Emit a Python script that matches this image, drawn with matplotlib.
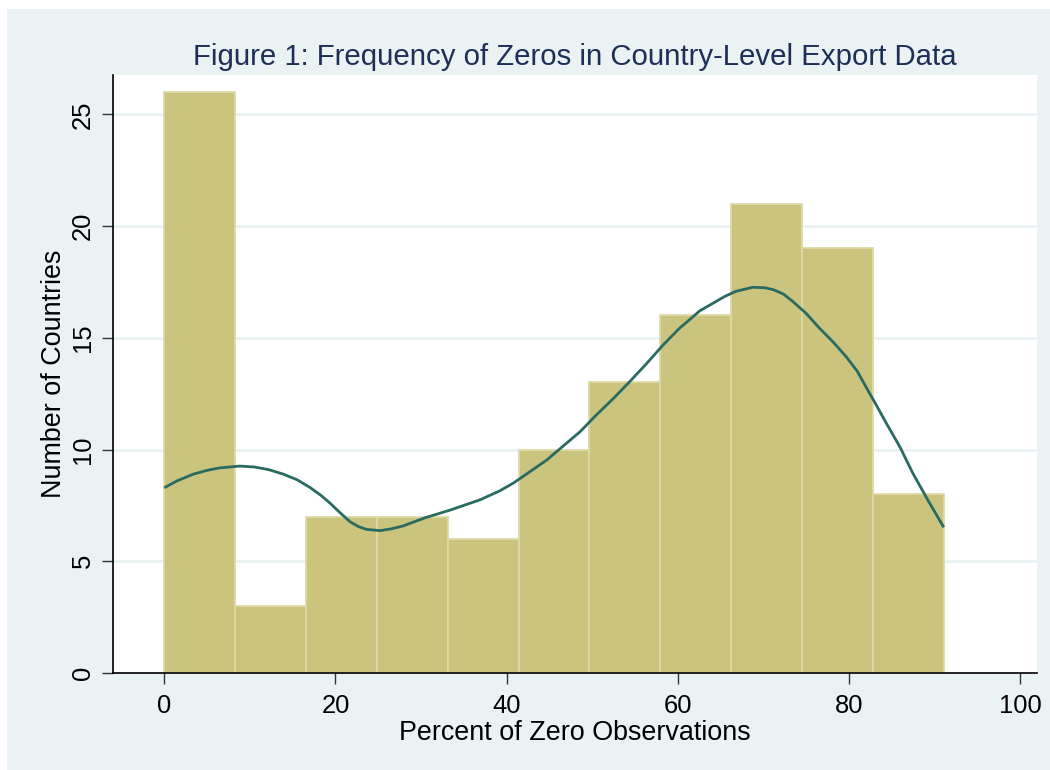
import matplotlib
matplotlib.use("Agg")
import matplotlib.pyplot as plt
from matplotlib.patches import Rectangle

# histogram: number of countries per bin of "percent of zero observations"
bin_start = 0.0
bin_width = 8.28
counts = [26, 3, 7, 7, 6, 10, 13, 16, 21, 19, 8]

# kernel density overlay (scaled to counts)
kde_x = [0, 1.5, 3.4, 5.0, 6.5, 8.8, 10.5, 12.2, 13.9, 15.5, 17.0, 18.3,
         19.4, 20.6, 21.7, 22.7, 23.6, 25.2, 26.5, 27.9, 30.5, 33.4, 35.0,
         36.9, 39.2, 40.8, 42.7, 44.7, 46.6, 48.6, 50.5, 52.5, 54.5, 56.4,
         58.3, 60.2, 62.6, 64.1, 65.5, 66.8, 68.8, 70.2, 71.2, 72.4, 73.5,
         75.0, 76.6, 78.2, 79.7, 81.0, 82.1, 83.2, 84.4, 86.0, 87.5, 89.3, 91.1]
kde_y = [8.29, 8.6, 8.9, 9.07, 9.18, 9.26, 9.22, 9.1, 8.9, 8.65, 8.31, 7.95,
         7.59, 7.15, 6.77, 6.55, 6.43, 6.37, 6.45, 6.58, 6.95, 7.29, 7.5,
         7.75, 8.15, 8.5, 9.0, 9.53, 10.15, 10.8, 11.55, 12.29, 13.08, 13.86,
         14.68, 15.42, 16.21, 16.54, 16.85, 17.08, 17.26, 17.24, 17.15, 16.95, 16.61,
         16.1, 15.42, 14.8, 14.15, 13.5, 12.74, 12.0, 11.17, 10.1, 8.93, 7.7, 6.52]

x_ticks = [0, 20, 40, 60, 80, 100]
y_ticks = [0, 5, 10, 15, 20, 25]

title = "Figure 1: Frequency of Zeros in Country-Level Export Data"
x_label = "Percent of Zero Observations"
y_label = "Number of Countries"

bg = "#EAF2F3"
bar_fill = "#CBC47E"
bar_edge = "#DEDAA6"
line_col = "#2A6B61"
title_col = "#1E2F57"

plt.rcParams["font.family"] = ["Liberation Sans", "DejaVu Sans"]

W, H = 1050, 770
fig = plt.figure(figsize=(W / 100, H / 100), dpi=100)
fig.patch.set_facecolor("white")
fig.patches.append(Rectangle((7 / W, 0), 1 - 7 / W, 1 - 9 / H,
                             transform=fig.transFigure, facecolor=bg,
                             edgecolor="none", zorder=-10))

ax = fig.add_axes([113 / W, 1 - 673 / H, (1037 - 113) / W, (673 - 75) / H])
ax.set_facecolor("white")

lefts = [bin_start + i * bin_width for i in range(len(counts))]
ax.bar(lefts, counts, width=bin_width, align="edge", color=bar_fill,
       edgecolor=bar_edge, linewidth=1.3, zorder=2)
ax.plot(kde_x, kde_y, color=line_col, linewidth=2.0, zorder=3,
        solid_capstyle="butt", solid_joinstyle="round")

ax.set_xlim(-6.0, 102.0)
ax.set_ylim(0, 26.76)
ax.set_xticks(x_ticks)
ax.set_yticks(y_ticks)
for yv in y_ticks[1:]:
    ax.axhline(yv, color=bg, linewidth=2.0, zorder=1)

for side in ["top", "right"]:
    ax.spines[side].set_visible(False)
for side in ["left", "bottom"]:
    ax.spines[side].set_linewidth(1.2)
    ax.spines[side].set_color("black")
    ax.spines[side].set_zorder(4)

ax.tick_params(axis="both", direction="out", length=8, width=1.0,
               color="#333333", labelsize=18.4, labelcolor="black")
ax.tick_params(axis="x", pad=7)
ax.tick_params(axis="y", pad=5)
for lab in ax.get_yticklabels():
    lab.set_rotation(90)
    lab.set_va("center")

fig.text(575 / W, 1 - 65 / H, title, ha="center", va="baseline",
         fontsize=21.2, color=title_col)
fig.text(575 / W, 1 - 740 / H, x_label, ha="center", va="baseline",
         fontsize=19.4, color="black")
fig.text(54 / W, 1 - 374 / H, y_label, ha="center", va="center",
         rotation=90, fontsize=19.4, color="black")

fig.savefig("out.png", dpi=100)
plt.close(fig)
